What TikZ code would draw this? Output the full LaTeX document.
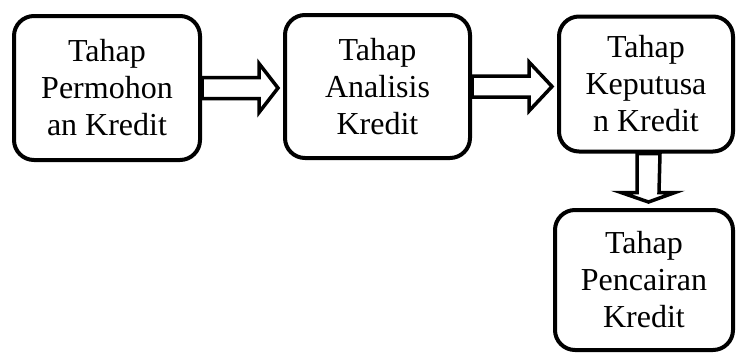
\documentclass[tikz,border=0pt]{standalone}
\usepackage{fontspec}
\setmainfont{Liberation Serif}
\usetikzlibrary{calc}
\tikzset{stage/.style={draw,line width=4pt,rounded corners=20pt,align=center,inner sep=0pt,font=\fontsize{32}{37}\selectfont}}
\tikzset{hollow/.style={draw,line width=3.5pt,fill=white,line join=miter}}

\begin{document}
\begin{tikzpicture}[x=1pt,y=-1pt]
    \useasboundingbox (0,0) rectangle (736,354);
    \node[stage,minimum width=186pt,minimum height=144pt] (P) at (107,88) {Tahap\\Permohon\\an Kredit};
    \node[stage,minimum width=185pt,minimum height=143pt] (A) at (377.5,86.5) {Tahap\\Analisis\\Kredit};
    \node[stage,minimum width=174pt,minimum height=135pt] (K) at (646,84) {Tahap\\Keputusa\\n Kredit};
    \node[stage,minimum width=178pt,minimum height=140pt] (C) at (644,280) {Tahap\\Pencairan\\Kredit};
    % hollow block arrows between the stages
    \draw[hollow] ($(P.east)+(0,-10.5)$) -- ++(57,0) -- ++(0,-14) -- ($(P.east -| A.west)+(-5,0)$)
      -- ($(P.east)+(57,24.5)$) -- ++(0,-14) -- ($(P.east)+(0,10.5)$) -- cycle;
    \draw[hollow] ($(A.east)+(0,-10.5)$) -- ++(57,0) -- ++(0,-14) -- ($(A.east -| K.west)+(-5,0)$)
      -- ($(A.east)+(57,24.5)$) -- ++(0,-14) -- ($(A.east)+(0,10.5)$) -- cycle;
    \draw[hollow] ($(K.south)+(-9,0)$) -- ++(0,39) -- ++(-16,0) -- ($(K.south |- C.north)+(2.5,-6)$)
      -- ($(K.south)+(29,39)$) -- ++(-16,0) -- ($(K.south)+(14,0)$) -- cycle;
\end{tikzpicture}
\end{document}
